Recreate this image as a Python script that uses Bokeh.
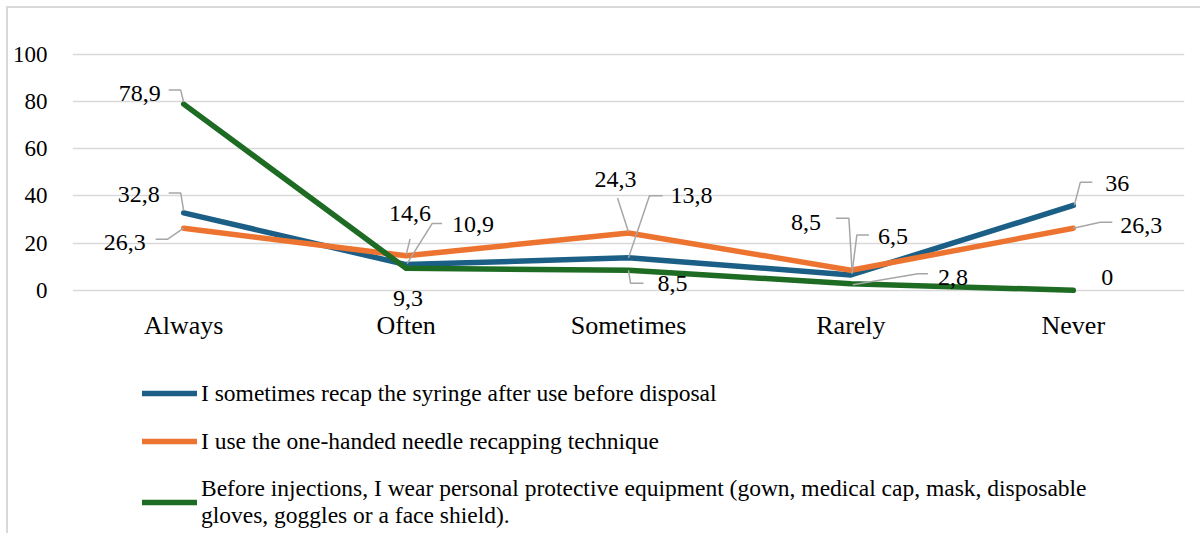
from bokeh.plotting import figure
from bokeh.models import ColumnDataSource, FixedTicker, Range1d, FactorRange, Legend, LegendItem
from bokeh.core.properties import value, field
from bokeh.embed import file_html
from bokeh.resources import INLINE

# ---------------- data ----------------
categories = ["Always", "Often", "Sometimes", "Rarely", "Never"]
recap_values = [32.8, 10.9, 13.8, 6.5, 36]
one_handed_values = [26.3, 14.6, 24.3, 8.5, 26.3]
ppe_values = [78.9, 9.3, 8.5, 2.8, 0]
y_ticks = [0, 20, 40, 60, 80, 100]
series_names = [
    "I sometimes recap the syringe after use before disposal",
    "I use the one-handed needle recapping technique",
    "Before injections, I wear personal protective equipment (gown, medical cap, mask, disposable\ngloves, goggles or a face shield).",
]

# ---------------- styles / layout ----------------
FONT = "Liberation Serif"
COLORS = ["#1C5F86", "#ED7430", "#1E6B23"]
W, H = 1194, 527
TOP, LEFT, RIGHT = 34, 64, 18
PX_Y_TARGET = 2.36
Y1 = 105
Y0 = Y1 - (H - TOP) / PX_Y_TARGET
PX_X = (W - LEFT - RIGHT) / len(categories)
PX_Y = (H - TOP) / (Y1 - Y0)

# label placement per series: (dx px, dy px (down +), align)
label_pos = [
    [(-24, -18, "right"), (46, -40, "left"), (42, -62, "left"), (27, -38, "left"), (32, -22, "left")],
    [(-38, 14, "right"), (4, -42, "center"), (-13, -53, "center"), (-45, -48, "center"), (47, -3, "left")],
    [(-23, -11, "right"), (2, 30, "center"), (29, 13, "left"), (87, -6, "left"), (34, -13, "center")],
]
# leader line paths (pixel offsets from the data point), None = no leader
leader_pos = [
    [[(-15, -20), (-3, -20), (0, -2)], [(36, -41), (26, -41), (1, -1)], [(34, -62), (21, -62), (0, 0)],
     [(18, -40), (6, -40), (1, -1)], [(19, -23), (7, -23), (1, 0)]],
    [[(-28, 11), (-16, 11), (0, 0)], [(4, -17), (0, -1)], [(-11, -35), (0, -1)],
     [(-15, -52), (-2, -52), (1, -2)], [(0, 0), (27, -6), (39, -6)]],
    [[(-15, -14), (-3, -14), (0, -2)], None, [(0, 0), (2, 13), (15, 13)],
     [(2, 1), (67, -10), (77, -10)], None],
]

p = figure(width=W, height=H, output_backend="svg", toolbar_location=None,
           x_range=FactorRange(*categories, range_padding=0, factor_padding=0),
           y_range=Range1d(Y0, Y1), x_axis_location=None,
           min_border_left=LEFT, min_border_right=RIGHT, min_border_top=TOP, min_border_bottom=0)
p.styles = {"margin-left": "6px", "margin-top": "6px",
            "border-left": "2px solid #d9d9d9", "border-top": "2px solid #d9d9d9"}
p.outline_line_color = None
p.background_fill_color = "white"
p.border_fill_color = "white"

p.xgrid.visible = False
p.ygrid.grid_line_color = "#d9d9d9"
p.ygrid.grid_line_width = 1.5
p.ygrid.ticker = FixedTicker(ticks=y_ticks)
p.yaxis.ticker = FixedTicker(ticks=y_ticks)
p.yaxis.axis_line_color = None
p.yaxis.major_tick_line_color = None
p.yaxis.minor_tick_line_color = None
p.yaxis.major_tick_out = 0
p.yaxis.major_tick_in = 0
p.yaxis.minor_tick_out = 0
p.yaxis.major_label_text_font = FONT
p.yaxis.major_label_text_color = "#000000"
p.yaxis.major_label_text_font_size = "23px"
p.yaxis.major_label_standoff = 25

all_series = [recap_values, one_handed_values, ppe_values]
renderers = []
for vals, col in zip(all_series, COLORS):
    r = p.line(x=categories, y=vals, line_color=col, line_width=5.5, line_cap="round", line_join="round")
    renderers.append(r)

# category (x axis) labels
p.text(x=categories, y=[0] * len(categories), text=categories, y_offset=35,
       text_align="center", text_baseline="middle", text_font=value(FONT),
       text_font_size="26px", text_color="#000000")

# leader lines
lxs, lys = [], []
for s, vals in enumerate(all_series):
    for i, v in enumerate(vals):
        path = leader_pos[s][i]
        if path is None:
            continue
        lxs.append([i + 0.5 + dx / PX_X for dx, dy in path])
        lys.append([v - dy / PX_Y for dx, dy in path])
p.multi_line(xs=lxs, ys=lys, line_color="#a6a6a6", line_width=1.5)

# data labels
lx, ly, lt, ldx, ldy, lal = [], [], [], [], [], []
for s, vals in enumerate(all_series):
    for i, v in enumerate(vals):
        dx, dy, al = label_pos[s][i]
        lx.append(categories[i]); ly.append(v)
        lt.append(f"{v:g}".replace(".", ","))
        ldx.append(dx); ldy.append(dy); lal.append(al)
src = ColumnDataSource(dict(x=lx, y=ly, text=lt, dx=ldx, dy=ldy, align=lal))
p.text(x="x", y="y", text="text", x_offset="dx", y_offset="dy", text_align=field("align"),
       text_baseline="middle", text_font=value(FONT), text_font_size="24px", text_color="#000000",
       source=src)

legend = Legend(items=[LegendItem(label=n, renderers=[r]) for n, r in zip(series_names, renderers)],
                location=(70, 6), orientation="vertical", padding=0, margin=0, spacing=20,
                glyph_width=55, glyph_height=28, label_height=28, label_standoff=4,
                label_text_font=FONT, label_text_font_size="23.5px", label_text_color="#000000",
                border_line_alpha=0, background_fill_alpha=0)
p.add_layout(legend)

open("out.html", "w").write(file_html(p, INLINE))
